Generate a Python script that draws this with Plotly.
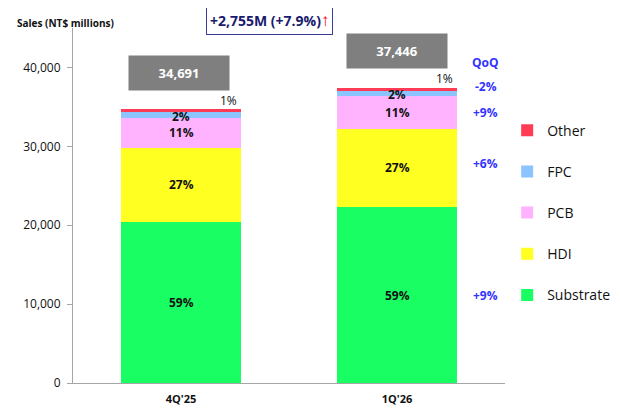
import plotly.graph_objects as go

categories = ["4Q'25", "1Q'26"]
segments = ["Substrate", "HDI", "PCB", "FPC", "Other"]
substrate = [20468, 22310]
hdi = [9367, 9929]
pcb = [3816, 4159]
fpc = [694, 680]
other = [347, 368]
totals = [34691, 37446]
share_labels = {
    "Substrate": ["59%", "59%"],
    "HDI": ["27%", "27%"],
    "PCB": ["11%", "11%"],
    "FPC": ["2%", "2%"],
    "Other": ["1%", "1%"],
}
qoq_labels = {"Substrate": "+9%", "HDI": "+6%", "PCB": "+9%", "FPC": "-2%"}
colors = {
    "Substrate": "#19FF63",
    "HDI": "#FFFF22",
    "PCB": "#FFB3FF",
    "FPC": "#8CC4FF",
    "Other": "#FF3B55",
}
values = {"Substrate": substrate, "HDI": hdi, "PCB": pcb, "FPC": fpc, "Other": other}

FONT = "Open Sans"
fig = go.Figure()
for i, s in enumerate(segments):
    fig.add_trace(go.Bar(
        x=categories, y=values[s], name=s, marker_color=colors[s],
        marker_line_width=0, width=0.56, legendgroup=s,
        legendrank=len(segments) - i,
        hoverinfo="skip",
    ))

annotations = []
for ci, c in enumerate(categories):
    base = 0
    for s in segments:
        v = values[s][ci]
        mid = base + v / 2
        if s == "Other":
            annotations.append(dict(x=ci + 0.22, y=base + v + 1100, xref="x", yref="y",
                                    yanchor="middle",
                                    text=share_labels[s][ci], showarrow=False,
                                    font=dict(family=FONT, size=12, color="#111")))
        else:
            yy = mid - 200 if s == "FPC" else mid
            annotations.append(dict(x=ci, y=yy, xref="x", yref="y", yanchor="middle",
                                    text="<b>" + share_labels[s][ci] + "</b>", showarrow=False,
                                    font=dict(family=FONT, size=12, color="#111")))
        if ci == 1 and s in qoq_labels:
            yq = mid + 900 if s == "FPC" else mid
            if s == "HDI":
                yq = mid + 500
            annotations.append(dict(x=ci + 0.41, y=yq, xref="x", yref="y", yanchor="middle",
                                    text="<b>" + qoq_labels[s] + "</b>", showarrow=False,
                                    font=dict(family=FONT, size=12, color="#3333FF")))
        base += v
    annotations.append(dict(x=ci - (0.01 if ci == 0 else 0), y=totals[ci] + 4600, xref="x", yref="y",
                            yanchor="middle",
                            text="<b>" + f"{totals[ci]:,}" + "</b>", showarrow=False,
                            bgcolor="#7F7F7F", width=98, height=32,
                            font=dict(family=FONT, size=13, color="white")))

annotations.append(dict(x=1.41, y=40600, xref="x", yref="y", yanchor="middle",
                        text="<b>QoQ</b>", showarrow=False,
                        font=dict(family=FONT, size=12, color="#3333FF")))

diff = totals[1] - totals[0]
pct = diff / totals[0] * 100
annotations.append(dict(x=0.455, y=1.025, xref="paper", yref="paper", yanchor="middle",
                        text=f"<b>+{diff:,}M (+{pct:.1f}%)<span style='color:#FF0000;font-size:17px'>↑</span></b>",
                        showarrow=False, bordercolor="#3B3B9A", borderwidth=1, borderpad=3,
                        bgcolor="white",
                        font=dict(family=FONT, size=14, color="#1A1A6E")))
annotations.append(dict(x=-0.134, y=1.015, xref="paper", yref="paper", xanchor="left",
                        yanchor="middle",
                        text="<b>Sales (NT$ millions)</b>", showarrow=False,
                        font=dict(family=FONT, size=10, color="#111")))

fig.update_layout(
    barmode="stack",
    width=620, height=411,
    margin=dict(l=65, r=123, t=20, b=36, autoexpand=False),
    paper_bgcolor="white", plot_bgcolor="white",
    font=dict(family=FONT, color="#111"),
    showlegend=True,
    legend=dict(x=1.005, y=0.756, xanchor="left", yanchor="top",
                traceorder="grouped", tracegroupgap=20,
                font=dict(family=FONT, size=14, color="#111"),
                itemwidth=30),
    annotations=annotations,
    xaxis=dict(range=[-0.5, 1.5], showline=True, linecolor="#A6A6A6", linewidth=1,
               ticks="", tickfont=dict(family=FONT, size=11, color="#111"),
               ticklabelstandoff=6, showgrid=False),
    yaxis=dict(range=[0, 45000], tickvals=[0, 10000, 20000, 30000, 40000],
               tickformat=",d", showline=True, linecolor="#A6A6A6", linewidth=1,
               ticks="outside", ticklen=5, tickcolor="#A6A6A6",
               tickfont=dict(family=FONT, size=12, color="#111"),
               ticklabelstandoff=4, showgrid=False, zeroline=False),
)
fig.update_xaxes(tickprefix="<b>", ticksuffix="</b>")
fig.update_yaxes(tickprefix="<b>", ticksuffix="</b>")
fig.write_html("out.html")
